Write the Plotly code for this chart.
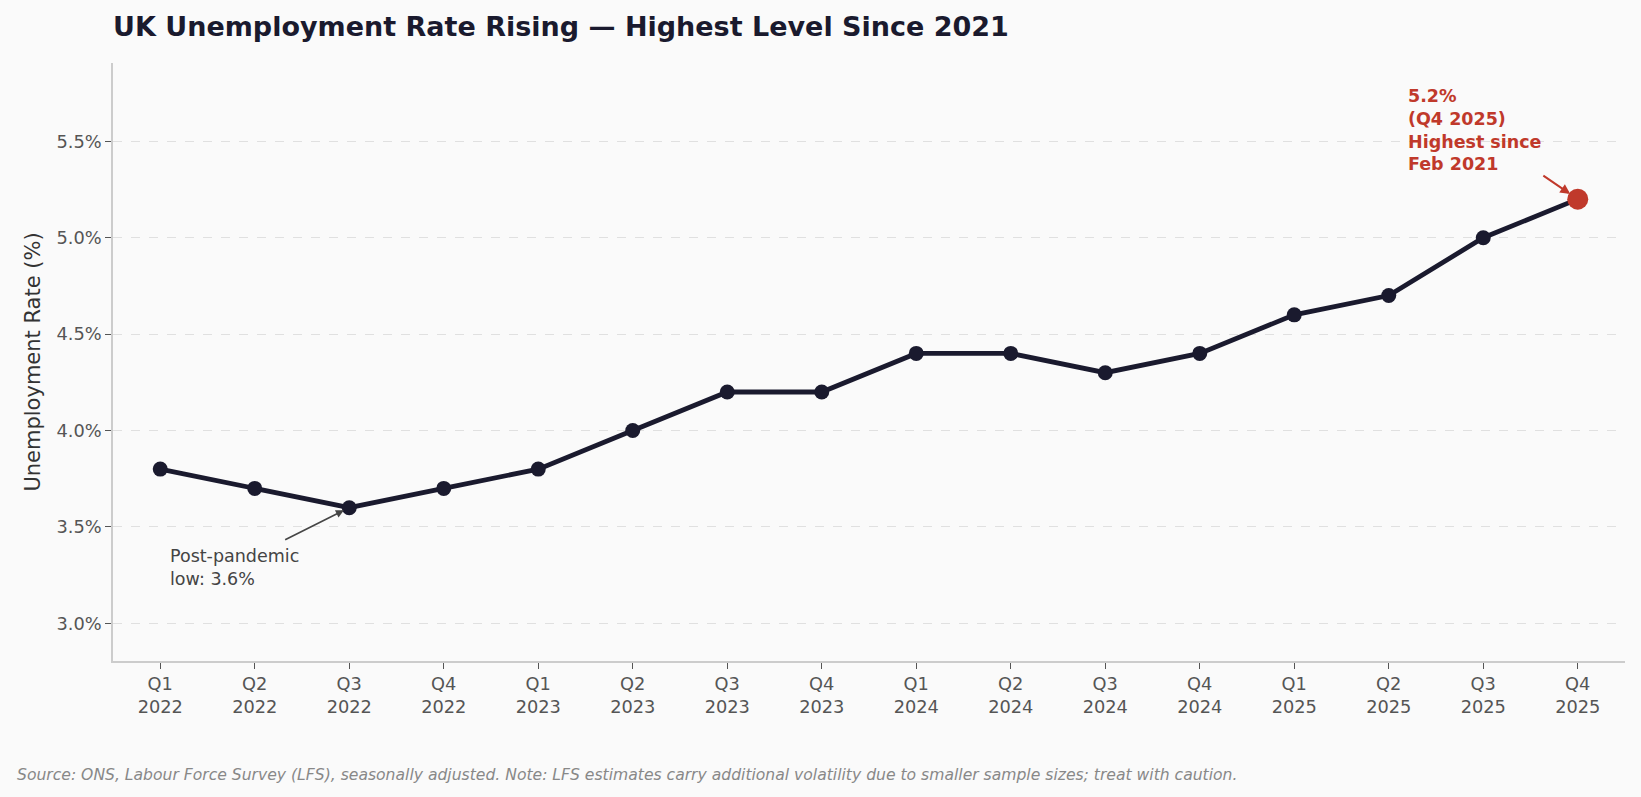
import plotly.graph_objects as go

quarters = ["Q1<br>2022", "Q2<br>2022", "Q3<br>2022", "Q4<br>2022",
            "Q1<br>2023", "Q2<br>2023", "Q3<br>2023", "Q4<br>2023",
            "Q1<br>2024", "Q2<br>2024", "Q3<br>2024", "Q4<br>2024",
            "Q1<br>2025", "Q2<br>2025", "Q3<br>2025", "Q4<br>2025"]
rates = [3.8, 3.7, 3.6, 3.7, 3.8, 4.0, 4.2, 4.2, 4.4, 4.4, 4.3, 4.4, 4.6, 4.7, 5.0, 5.2]
y_ticks = [3.0, 3.5, 4.0, 4.5, 5.0, 5.5]
y_tick_labels = ["3.0%", "3.5%", "4.0%", "4.5%", "5.0%", "5.5%"]

FONT = "DejaVu Sans"
NAVY = "#1a1a2e"
RED = "#c0392b"

x_idx = list(range(len(quarters)))

fig = go.Figure()
fig.add_trace(go.Scatter(
    x=x_idx, y=rates, mode="lines+markers",
    line=dict(color=NAVY, width=4.8),
    marker=dict(color=NAVY, size=15),
    hoverinfo="skip", showlegend=False,
))
fig.add_trace(go.Scatter(
    x=[x_idx[-1]], y=[rates[-1]], mode="markers",
    marker=dict(color=RED, size=21),
    hoverinfo="skip", showlegend=False,
))

low_i = rates.index(min(rates))
last_i = len(rates) - 1

annotations = [
    dict(x=13.18, y=5.795, xref="x", yref="y", xanchor="left", yanchor="top",
         text="<b>5.2%<br>(Q4 2025)<br>Highest since<br>Feb 2021</b>",
         showarrow=False, align="left",
         font=dict(family=FONT, size=17.5, color=RED)),
    dict(x=x_idx[last_i], y=rates[last_i], xref="x", yref="y",
         ax=14.62, ay=5.327, axref="x", ayref="y", text="",
         showarrow=True, arrowhead=2, arrowsize=1, arrowwidth=2,
         arrowcolor=RED, standoff=9),
    dict(x=0.08, y=3.41, xref="x", yref="y", xanchor="left", yanchor="top",
         text="Post-pandemic<br>low: 3.6%", showarrow=False, align="left",
         font=dict(family=FONT, size=17.5, color="#444444")),
    dict(x=x_idx[low_i], y=rates[low_i], xref="x", yref="y",
         ax=1.306, ay=3.43, axref="x", ayref="y", text="",
         showarrow=True, arrowhead=2, arrowsize=1, arrowwidth=1.6,
         arrowcolor="#444444", standoff=6),
    dict(x=0, y=0, xref="paper", yref="paper", xanchor="left", yanchor="middle",
         text="<i>Source: ONS, Labour Force Survey (LFS), seasonally adjusted. Note: LFS estimates carry additional volatility due to smaller sample sizes; treat with caution.</i>",
         showarrow=False, xshift=-98, yshift=-114,
         font=dict(family=FONT, size=15.6, color="#888888")),
]

fig.update_layout(
    width=1641, height=797,
    paper_bgcolor="#fafafa", plot_bgcolor="#fafafa",
    margin=dict(l=113, r=16, t=63, b=136),
    font=dict(family=FONT, color="#555555"),
    title=dict(text="<b>UK Unemployment Rate Rising — Highest Level Since 2021</b>",
               x=113 / 1641, xanchor="left", y=1 - 27 / 797, yanchor="middle",
               font=dict(family=FONT, size=27, color=NAVY)),
    annotations=annotations,
    xaxis=dict(
        range=[-0.5, 15.5], tickmode="array", tickvals=x_idx, ticktext=quarters,
        showgrid=False, zeroline=False,
        showline=True, linecolor="#cccccc", linewidth=1.5,
        ticks="outside", ticklen=6, tickcolor="#555555",
        tickfont=dict(family=FONT, size=17.8, color="#555555"),
    ),
    yaxis=dict(
        range=[2.805, 5.906], tickmode="array", tickvals=y_ticks, ticktext=y_tick_labels,
        showgrid=True, gridcolor="#e0e0e0", griddash="dash", gridwidth=1,
        zeroline=False, showline=True, linecolor="#cccccc", linewidth=1.5,
        ticks="outside", ticklen=6, tickcolor="#555555",
        tickfont=dict(family=FONT, size=17.8, color="#555555"),
        title=dict(text="Unemployment Rate (%)", standoff=10,
                   font=dict(family=FONT, size=21, color="#333333")),
    ),
)

fig.write_html(
    "out.html",
    config={"displayModeBar": False},
    post_script="document.body.style.margin='0';document.body.style.background='#fafafa';",
)
